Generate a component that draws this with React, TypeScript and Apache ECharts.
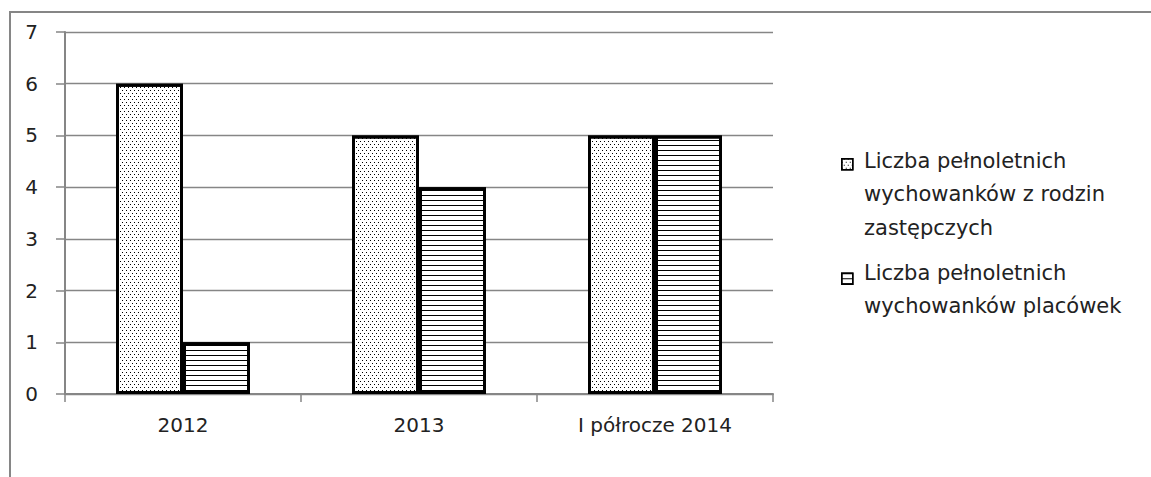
import React, { useEffect, useRef } from "react";
import * as echarts from "echarts";

const categories = ["2012", "2013", "I półrocze 2014"];
const seriesNames = [
  "Liczba pełnoletnich\nwychowanków z rodzin\nzastępczych",
  "Liczba pełnoletnich\nwychowanków placówek",
];
const fosterValues = [6, 5, 5];
const institutionValues = [1, 4, 5];
const yTicks = [0, 1, 2, 3, 4, 5, 6, 7];

const FONT = "'DejaVu Sans'";

export default function App() {
  const ref = useRef<HTMLDivElement>(null);
  useEffect(() => {
    if (!ref.current) return;
    const chart = echarts.init(ref.current, undefined, { renderer: "svg" });
    const dotDecal = {
      symbol: "rect",
      symbolSize: 1,
      color: "#000",
      backgroundColor: "#fff",
      dashArrayX: [
        [1, 3],
        [0, 2, 1, 1],
      ],
      dashArrayY: [1, 2],
      rotation: 0,
    };
    const lineDecal = {
      symbol: "rect",
      symbolSize: 1,
      color: "#000",
      backgroundColor: "#fff",
      dashArrayX: [1, 0],
      dashArrayY: [1, 4],
      rotation: 0,
    };
    chart.setOption({
      animation: false,
      aria: { enabled: true, decal: { show: true } },
      backgroundColor: "#fff",
      grid: { left: 65, right: 378, top: 32, bottom: 83, containLabel: false },
      graphic: [
        {
          type: "polyline",
          shape: { points: [[10, 480], [10, 12], [1155, 12]] },
          style: { stroke: "#868686", lineWidth: 2, fill: "none" },
          silent: true,
        },
        {
          type: "text",
          left: 864,
          top: 144,
          style: {
            text: seriesNames[0],
            font: `21px ${FONT}`,
            fill: "#222",
            lineHeight: 33.5,
          },
        },
        {
          type: "text",
          left: 864,
          top: 256,
          style: {
            text: seriesNames[1],
            font: `21px ${FONT}`,
            fill: "#222",
            lineHeight: 33.5,
          },
        },
      ],
      legend: {
        orient: "vertical",
        left: 836,
        top: 153,
        itemWidth: 11,
        itemHeight: 11,
        itemGap: 102,
        icon: "rect",
        formatter: () => "",
        itemStyle: { borderWidth: 1.5, borderColor: "#000" },
        textStyle: { fontSize: 1 },
        data: seriesNames,
      },
      xAxis: {
        type: "category",
        data: categories,
        axisLine: { lineStyle: { color: "#868686", width: 2 } },
        axisTick: { show: true, length: 8, lineStyle: { color: "#868686", width: 1.5 } },
        axisLabel: { color: "#222", fontSize: 20, fontFamily: FONT, margin: 21 },
      },
      yAxis: {
        type: "value",
        min: 0,
        max: 7,
        interval: 1,
        axisLine: { show: true, lineStyle: { color: "#868686", width: 2 } },
        axisTick: { show: true, length: 9, lineStyle: { color: "#868686", width: 1.5 } },
        splitLine: { lineStyle: { color: "#868686", width: 1.3 } },
        axisLabel: {
          color: "#222",
          fontSize: 20,
          fontFamily: FONT,
          margin: 27,
          formatter: (v: number) => (yTicks.includes(v) ? String(v) : ""),
        },
      },
      series: [
        {
          name: seriesNames[0],
          type: "bar",
          data: fosterValues,
          barWidth: 67,
          barGap: "0%",
          itemStyle: {
            color: "#fff",
            borderColor: "#000",
            borderWidth: 3,
            decal: dotDecal,
          },
        },
        {
          name: seriesNames[1],
          type: "bar",
          data: institutionValues,
          barWidth: 67,
          barGap: "0%",
          itemStyle: {
            color: "#fff",
            borderColor: "#000",
            borderWidth: 3,
            decal: lineDecal,
          },
        },
      ],
    });
    return () => chart.dispose();
  }, []);
  return <div ref={ref} style={{ width: 1151, height: 477, position: "absolute", left: 0, top: 0 }} />;
}
